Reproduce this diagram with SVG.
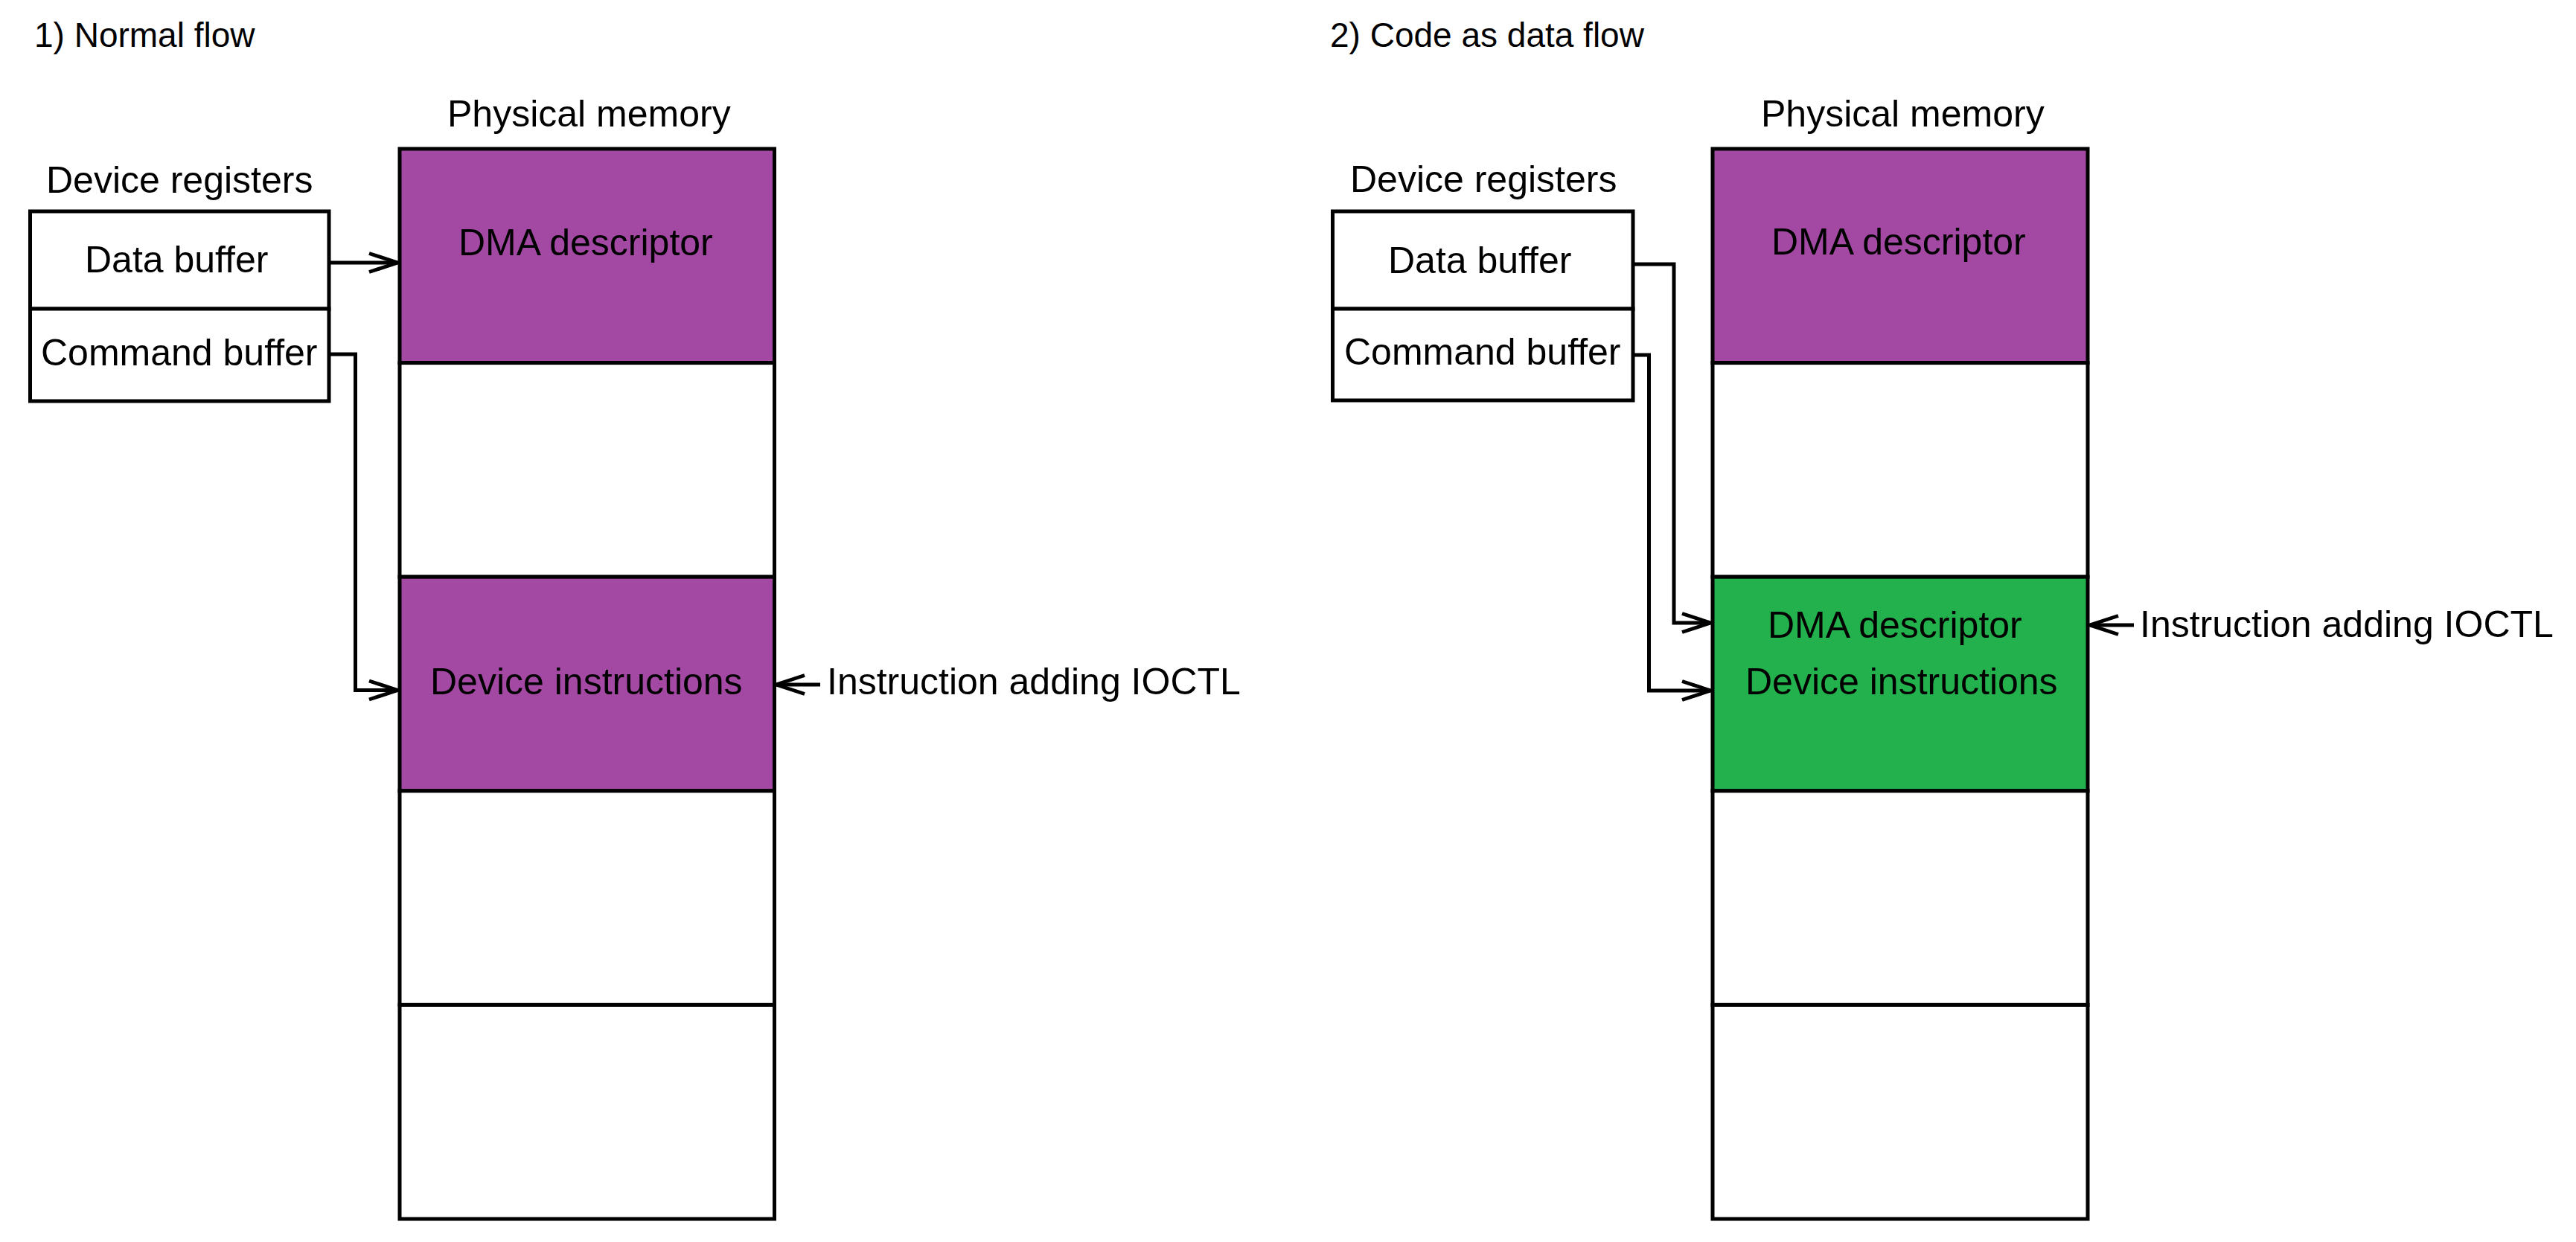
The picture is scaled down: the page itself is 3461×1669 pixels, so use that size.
<svg xmlns="http://www.w3.org/2000/svg" width="3461" height="1669" viewBox="0 0 3461 1669">
<style>
  .t { font-family: "Liberation Sans", Arial, sans-serif; font-size: 50px; fill: #000; }
  .title { font-family: "Liberation Sans", Arial, sans-serif; font-size: 46px; fill: #000; }
  .box { fill: #fff; stroke: #000; stroke-width: 5; }
  .purple { fill: #A349A4; stroke: #000; stroke-width: 5; }
  .green { fill: #22B14C; stroke: #000; stroke-width: 5; }
  .conn { fill: none; stroke: #000; stroke-width: 5; marker-end: url(#arr); }
</style>
<defs>
  <marker id="arr" viewBox="-45 -20 50 40" refX="0" refY="0" markerWidth="50" markerHeight="40" markerUnits="userSpaceOnUse" orient="auto">
    <path d="M -38 -12.5 L 0 0 L -38 12.5" fill="none" stroke="#000" stroke-width="5"/>
  </marker>
</defs>
<rect width="3461" height="1669" fill="#fff"/>

<text class="title" x="46" y="63">1) Normal flow</text>
<text class="title" x="1787" y="63">2) Code as data flow</text>

<!-- Left panel -->
<g id="left-registers">
  <text class="t" x="62" y="259">Device registers</text>
  <rect class="box" x="40.5" y="284" width="401.5" height="131"/>
  <rect class="box" x="40.5" y="415" width="401.5" height="124"/>
  <text class="t" x="114" y="366">Data buffer</text>
  <text class="t" x="55" y="491">Command buffer</text>
</g>
<g id="left-memory">
  <text class="t" x="601" y="170">Physical memory</text>
  <rect class="purple" x="537" y="200" width="503.5" height="287.6"/>
  <rect class="box" x="537" y="487.6" width="503.5" height="287.6"/>
  <rect class="purple" x="537" y="775.2" width="503.5" height="287.6"/>
  <rect class="box" x="537" y="1062.8" width="503.5" height="287.6"/>
  <rect class="box" x="537" y="1350.4" width="503.5" height="287.6"/>
  <text class="t" x="616" y="343">DMA descriptor</text>
  <text class="t" x="578" y="933">Device instructions</text>
</g>
<text id="left-ioctl" class="t" x="1111" y="933">Instruction adding IOCTL</text>

<!-- Right panel -->
<g id="right-registers">
  <text class="t" x="1814" y="258">Device registers</text>
  <rect class="box" x="1790.5" y="284" width="403.5" height="131"/>
  <rect class="box" x="1790.5" y="415" width="403.5" height="123"/>
  <text class="t" x="1865" y="367">Data buffer</text>
  <text class="t" x="1806" y="490">Command buffer</text>
</g>
<g id="right-memory">
  <text class="t" x="2366" y="170">Physical memory</text>
  <rect class="purple" x="2301" y="200" width="504" height="287.6"/>
  <rect class="box" x="2301" y="487.6" width="504" height="287.6"/>
  <rect class="green" x="2301" y="775.2" width="504" height="287.6"/>
  <rect class="box" x="2301" y="1062.8" width="504" height="287.6"/>
  <rect class="box" x="2301" y="1350.4" width="504" height="287.6"/>
  <text class="t" x="2380" y="342">DMA descriptor</text>
  <text class="t" x="2375" y="857">DMA descriptor</text>
  <text class="t" x="2345" y="933">Device instructions</text>
</g>
<text id="right-ioctl" class="t" x="2875" y="856">Instruction adding IOCTL</text>

<g id="connectors">
  <polyline class="conn" points="442,353 534,353"/>
  <polyline class="conn" points="442,476 477.5,476 477.5,927.5 534,927.5"/>
  <polyline class="conn" points="1102,920 1043,920"/>
  <polyline class="conn" points="2194,355 2249,355 2249,837 2298,837"/>
  <polyline class="conn" points="2194,477 2215.5,477 2215.5,928 2298,928"/>
  <polyline class="conn" points="2867,840 2808,840"/>
</g>
</svg>
